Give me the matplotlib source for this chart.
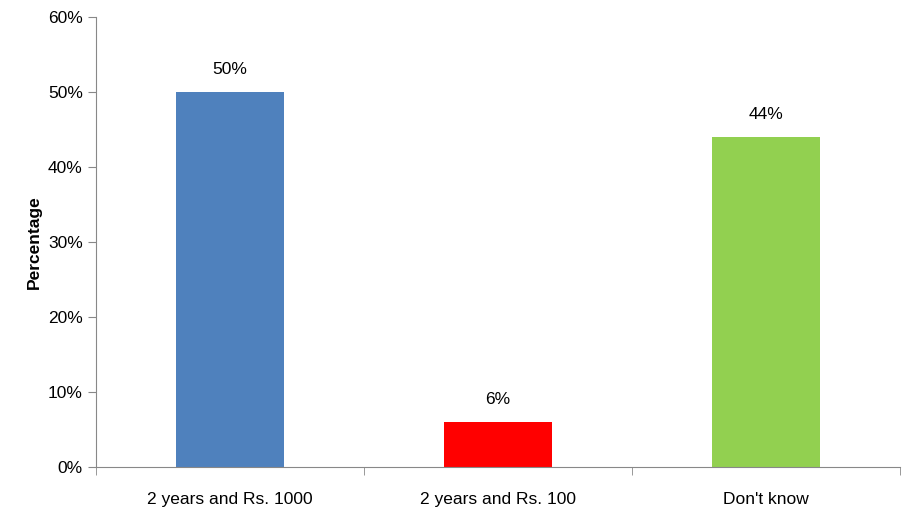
import matplotlib
matplotlib.use("Agg")
import matplotlib.pyplot as plt
from matplotlib.ticker import FuncFormatter, FixedLocator

categories = ["2 years and Rs. 1000", "2 years and Rs. 100", "Don't know"]
values = [50, 6, 44]
colors = ["#4F81BD", "#FF0000", "#92D050"]

plt.rcParams['font.family'] = ['Liberation Sans', 'DejaVu Sans']
fig = plt.figure(figsize=(9.12, 5.2), dpi=100)
ax = fig.add_axes([96/912, 53/520, 804/912, 450/520])
x = list(range(len(categories)))
ax.bar(x, values, width=0.4, color=colors)
for xi, v in zip(x, values):
    ax.text(xi, v + 2, f"{v}%", ha='center', va='bottom', fontsize=12.5)
ax.set_xlim(-0.5, 2.5)
ax.set_ylim(0, 60)
ax.set_yticks(range(0, 61, 10))
ax.yaxis.set_major_formatter(FuncFormatter(lambda v, p: f"{int(v)}%"))
ax.set_xticks(x)
ax.set_xticklabels(categories, fontsize=12.5)
ax.xaxis.set_minor_locator(FixedLocator([-0.5, 0.5, 1.5, 2.5]))
ax.tick_params(axis='x', which='major', length=0, pad=18)
ax.tick_params(axis='x', which='minor', length=6, color='#888888')
ax.tick_params(axis='y', length=6, color='#888888', labelsize=12.5)
for s in ['top', 'right']:
    ax.spines[s].set_visible(False)
for s in ['left', 'bottom']:
    ax.spines[s].set_color('#888888')
ax.set_ylabel("Percentage", fontsize=12.5, fontweight='bold')
fig.savefig("out.png", dpi=100)
